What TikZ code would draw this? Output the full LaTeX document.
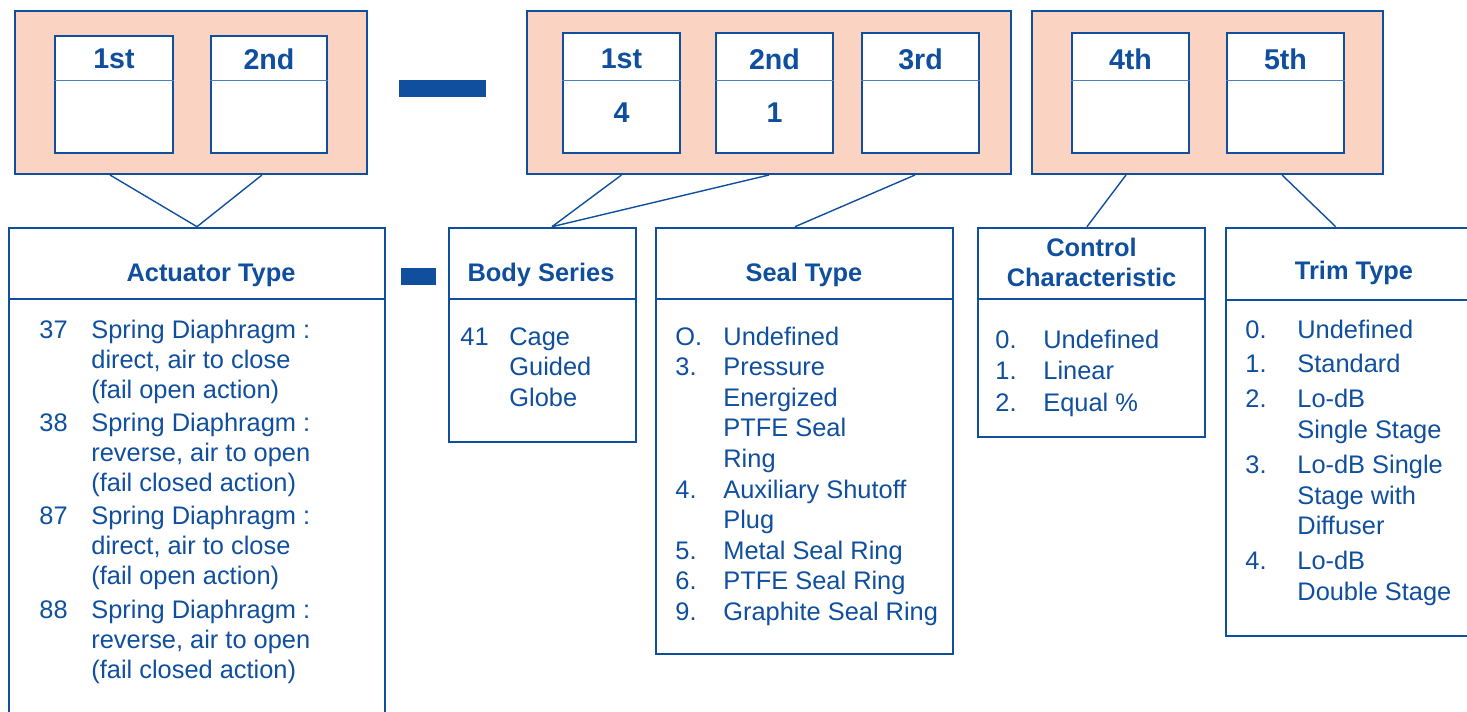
\documentclass[tikz,border=0pt]{standalone}
\usepackage{fontspec}
\setmainfont{Liberation Sans}
\usetikzlibrary{fit,calc}
\definecolor{codeblue}{HTML}{0F4F9E}
\definecolor{rulebl}{HTML}{4A80C0}
\definecolor{salmon}{HTML}{FAD3C3}

\begin{document}
\begin{tikzpicture}[x=0.5pt,y=-0.5pt,
  grp/.style={draw=codeblue,line width=1pt,fill=salmon,inner sep=0pt},
  cell/.style={draw=codeblue,line width=1.4pt,fill=white,inner sep=0pt},
  infobox/.style={draw=codeblue,line width=1.3pt,inner sep=0pt},
  head/.style={text=codeblue,font=\fontsize{14.3}{16}\selectfont\bfseries},
  title/.style={text=codeblue,font=\fontsize{12.7}{15}\selectfont\bfseries,align=center},
  list/.style={text=codeblue,anchor=base west,inner sep=0pt,font=\fontsize{12.7}{#1}\selectfont},
  link/.style={draw=codeblue,line width=0.7pt}]

  \useasboundingbox (0,0) rectangle (1467,712);

  \node[grp,fit={(15,11) (367,174)}] (grpA) {};
  \node[grp,fit={(527,11) (1011,174)}] (grpB) {};
  \node[grp,fit={(1032,11) (1383,174)}] (grpC) {};

  \foreach \nm/\xa/\xb/\ya/\lab/\val in {a1/55/173/36/1st/{}, a2/211/327/36/2nd/{},
      b1/563/680/33/1st/4, b2/716/833/33/2nd/1, b3/862/979/33/3rd/{},
      c1/1072/1189/33/4th/{}, c2/1227/1344/33/5th/{}} {
    \node[cell,fit={(\xa,\ya) (\xb,153)}] (\nm) {};
    \draw[rulebl,line width=0.5pt] (\nm.west |- 0,80) -- (\nm.east |- 0,80);
    \node[head] (\nm h) at (\nm |- 0,59) {\lab};
    \node[head] (\nm v) at (\nm |- 0,113) {\val};
  }

  \fill[codeblue] (399,80) rectangle (486,97);
  \fill[codeblue] (401,268) rectangle (436,285);

  \node[infobox,fit={(9,228) (385,740)}] (act) {};
  \node[infobox,fit={(449,228) (636,442)}] (body) {};
  \node[infobox,fit={(656,228) (953,654)}] (seal) {};
  \node[infobox,fit={(978,228) (1205,437)}] (ctrl) {};
  \node[infobox,fit={(1226,228) (1490,636)}] (trim) {};
  \foreach \b in {act,body,seal,ctrl}
    \draw[codeblue,line width=1pt] (\b.west |- 0,299) -- (\b.east |- 0,299);
  \draw[codeblue,line width=1pt] (trim.west |- 0,300) -- (trim.east |- 0,300);

  \node[title] (actT) at (211,275.5) {Actuator Type};
  \node[title] (bodyT) at (541,274.5) {Body Series};
  \node[title] (sealT) at (804,274.5) {Seal Type};
  \node[title] (ctrlT) at (1091.5,262) {Control\\Characteristic};
  \node[title] (trimT) at (1354,272.5) {Trim Type};

  \node[list=15pt] (actL) at (39,338) {\begin{tabular}[t]{@{}p{26pt}@{}l@{}}
    37 & Spring Diaphragm :\\ & direct, air to close\\ & (fail open action)\\[1.7pt]
    38 & Spring Diaphragm :\\ & reverse, air to open\\ & (fail closed action)\\[1.7pt]
    87 & Spring Diaphragm :\\ & direct, air to close\\ & (fail open action)\\[1.7pt]
    88 & Spring Diaphragm :\\ & reverse, air to open\\ & (fail closed action)
  \end{tabular}};
  \node[list=15.25pt] (bodyL) at (460,345) {\begin{tabular}[t]{@{}p{24.5pt}@{}l@{}}
    41 & Cage\\ & Guided\\ & Globe
  \end{tabular}};
  \node[list=15.3pt] (sealL) at (675,345) {\begin{tabular}[t]{@{}p{24pt}@{}l@{}}
    O. & Undefined\\
    3. & Pressure\\ & Energized\\ & PTFE Seal\\ & Ring\\
    4. & Auxiliary Shutoff\\ & Plug\\
    5. & Metal Seal Ring\\
    6. & PTFE Seal Ring\\
    9. & Graphite Seal Ring
  \end{tabular}};
  \node[list=15.75pt] (ctrlL) at (995,348) {\begin{tabular}[t]{@{}p{24pt}@{}l@{}}
    0. & Undefined\\ 1. & Linear\\ 2. & Equal \%
  \end{tabular}};
  \node[list=15.4pt] (trimL) at (1245,338) {\begin{tabular}[t]{@{}p{26pt}@{}l@{}}
    0. & Undefined\\[2pt]
    1. & Standard\\[2pt]
    2. & Lo-dB\\ & Single Stage\\[2pt]
    3. & Lo-dB Single\\ & Stage with\\ & Diffuser\\[2pt]
    4. & Lo-dB\\ & Double Stage
  \end{tabular}};

  \draw[link] ($(a1 |- grpA.south)+(-2pt,0)$) -- (act.north);
  \draw[link] ($(a2 |- grpA.south)+(-3.5pt,0)$) -- (act.north);
  \draw[link] (b1 |- grpB.south) -- ($(body.north)+(4.75pt,0)$);
  \draw[link] ($(b2 |- grpB.south)+(-2.75pt,0)$) -- ($(body.north)+(4.75pt,0)$);
  \draw[link] ($(b3 |- grpB.south)+(-2.75pt,0)$) -- ($(seal.north)+(-4.75pt,0)$);
  \draw[link] ($(c1 |- grpC.south)+(-2.25pt,0)$) -- ($(ctrl.north)+(-2.25pt,0)$);
  \draw[link] ($(c2 |- grpC.south)+(-1.75pt,0)$) -- ($(trim.north west)+(55.5pt,0)$);
\end{tikzpicture}
\end{document}
